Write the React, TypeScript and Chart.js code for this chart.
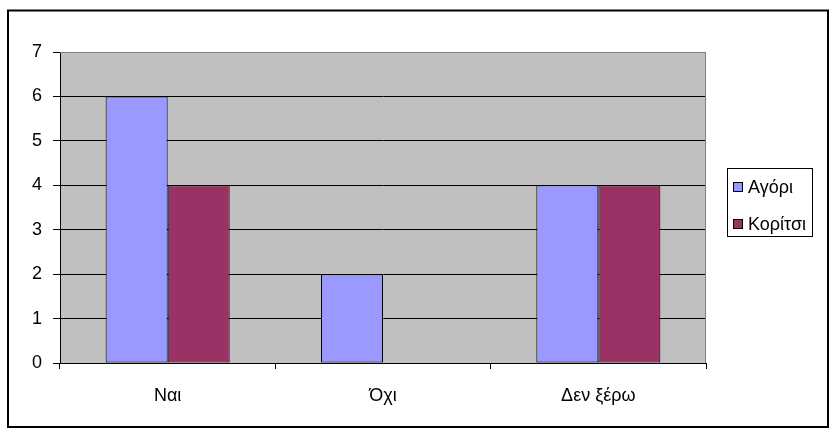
import React, { useEffect, useRef } from "react";
import { Chart, registerables } from "chart.js";

Chart.register(...registerables);

const categories = ["Ναι", "Όχι", "Δεν ξέρω"];
const seriesNames = ["Αγόρι", "Κορίτσι"];
const boys = [6, 2, 4];
const girls = [4, 0, 4];
const yMin = 0;
const yMax = 7;
const yStep = 1;
const seriesColors = ["#9999FF", "#993366"];

const FONT = "'Liberation Sans', Arial, sans-serif";
const W = 831;
const H = 430;

const framePlugin = {
  id: "frame",
  beforeDraw(chart: any) {
    const { ctx, chartArea } = chart;
    ctx.save();
    ctx.fillStyle = "#FFFFFF";
    ctx.fillRect(0, 0, W, H);
    // outer chart frame
    ctx.strokeStyle = "#000000";
    ctx.lineWidth = 2;
    ctx.strokeRect(8, 10.5, 820, 416.5);
    // plot background
    ctx.fillStyle = "#C0C0C0";
    ctx.fillRect(chartArea.left, chartArea.top, chartArea.right - chartArea.left, chartArea.bottom - chartArea.top);
    ctx.restore();
  },
  afterDatasetsDraw(chart: any) {
    const { ctx, chartArea } = chart;
    ctx.save();
    ctx.strokeStyle = "#808080";
    ctx.lineWidth = 1;
    ctx.beginPath();
    ctx.moveTo(chartArea.left, chartArea.top + 0.5);
    ctx.lineTo(chartArea.right - 0.5, chartArea.top + 0.5);
    ctx.lineTo(chartArea.right - 0.5, chartArea.bottom);
    ctx.stroke();
    ctx.restore();
  },
  afterDraw(chart: any) {
    const { ctx } = chart;
    ctx.save();
    // legend box
    ctx.strokeStyle = "#000000";
    ctx.lineWidth = 1;
    ctx.strokeRect(727.5, 168.5, 85, 68);
    ctx.font = `18px ${FONT}`;
    ctx.textBaseline = "middle";
    ctx.textAlign = "left";
    chart.data.datasets.forEach((ds: any, i: number) => {
      const cy = 187 + i * 37;
      ctx.fillStyle = ds.backgroundColor;
      ctx.fillRect(733.5, cy - 4.5, 9, 9);
      ctx.strokeStyle = "#000000";
      ctx.strokeRect(733.5, cy - 4.5, 9, 9);
      ctx.fillStyle = "#000000";
      ctx.fillText(ds.label, 748, cy + 1);
    });
    ctx.restore();
  },
};

export default function App() {
  const canvasRef = useRef<HTMLCanvasElement | null>(null);

  useEffect(() => {
    const canvas = canvasRef.current;
    if (!canvas) return;
    const chart = new Chart(canvas, {
      type: "bar",
      data: {
        labels: categories,
        datasets: [
          {
            label: seriesNames[0],
            data: boys,
            backgroundColor: seriesColors[0],
            borderColor: "#000000",
            borderWidth: 1,
            borderSkipped: false,
          },
          {
            label: seriesNames[1],
            data: girls,
            backgroundColor: seriesColors[1],
            borderColor: "#000000",
            borderWidth: 1,
            borderSkipped: false,
          },
        ],
      },
      options: {
        responsive: false,
        animation: false,
        devicePixelRatio: 1,
        layout: { padding: { top: 52, right: 125, left: 0, bottom: 0 } },
        datasets: {
          bar: { categoryPercentage: 0.576, barPercentage: 1 },
        } as any,
        plugins: {
          legend: { display: false },
          tooltip: { enabled: false },
          title: { display: false },
        },
        scales: {
          x: {
            offset: true,
            grid: {
              offset: true,
              drawOnChartArea: false,
              drawTicks: true,
              tickLength: 6,
              tickColor: "#000000",
              lineWidth: 1,
            },
            border: { display: true, color: "#000000", width: 1 },
            ticks: {
              color: "#000000",
              font: { family: FONT, size: 18 },
              padding: 16,
              maxRotation: 0,
              autoSkip: false,
            },
            afterFit: (scale: any) => {
              scale.height = 67;
            },
          },
          y: {
            min: yMin,
            max: yMax,
            grid: {
              color: (c: any) => (c.tick && c.tick.value === yMax ? "#808080" : "#000000"),
              tickColor: "#000000",
              lineWidth: 1,
              drawTicks: true,
              tickLength: 7,
            },
            border: { display: true, color: "#000000", width: 1 },
            ticks: {
              stepSize: yStep,
              color: "#000000",
              font: { family: FONT, size: 18 },
              padding: 11,
            },
            afterFit: (scale: any) => {
              scale.width = 60;
            },
          },
        },
      },
      plugins: [framePlugin],
    });
    return () => chart.destroy();
  }, []);

  return (
    <div style={{ position: "fixed", left: 0, top: 0, width: W, height: H, background: "#fff" }}>
      <canvas ref={canvasRef} width={W} height={H} style={{ display: "block", width: W, height: H }} />
    </div>
  );
}
